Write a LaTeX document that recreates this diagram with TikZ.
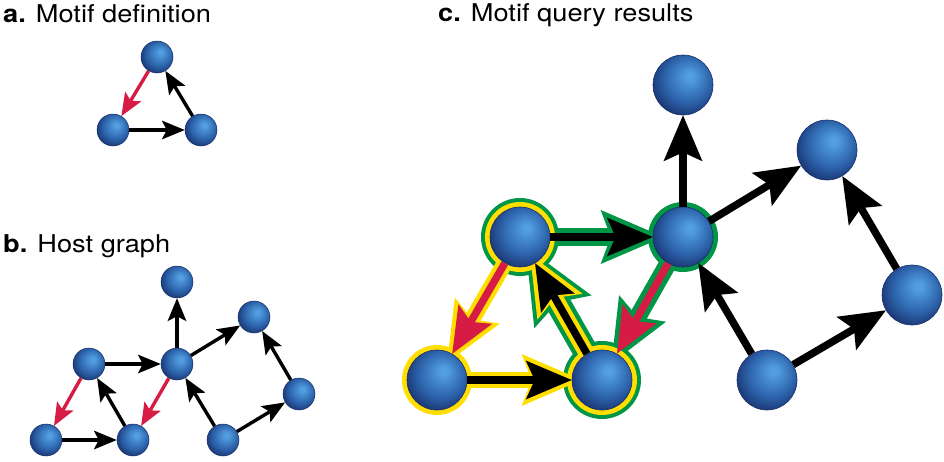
\documentclass[tikz,border=0pt]{standalone}
\usepackage{fontspec}
\setmainfont{TeX Gyre Heros}
\usepackage{graphicx}
\usetikzlibrary{arrows.meta}
\definecolor{ballhi}{RGB}{82,158,224}
\definecolor{ballmid}{RGB}{45,100,172}
\definecolor{balldk}{RGB}{24,48,108}
\definecolor{mygreen}{RGB}{0,150,70}
\definecolor{myyellow}{RGB}{255,222,0}
\definecolor{myred}{RGB}{214,28,68}
\pgfdeclareradialshading{myball}{\pgfpoint{6bp}{8bp}}{color(0bp)=(ballhi); color(3bp)=(ballhi); color(19bp)=(ballmid); color(31bp)=(balldk); color(50bp)=(balldk)}
\pgfdeclarelayer{gbg}
\pgfdeclarelayer{ybg}
\pgfsetlayers{gbg,ybg,main}
\tikzset{
  ballS/.style={circle, inner sep=0pt, minimum size=32pt, shading=myball, draw=balldk, line width=0.5pt},
  ballL/.style={circle, inner sep=0pt, minimum size=60pt, shading=myball, draw=balldk, line width=0.6pt},
  sarr/.style={line width=3.4pt, -{Stealth[length=23pt,width=19pt,inset=5pt,line width=0pt]}},
  larr/.style={line width=7.5pt, -{Stealth[length=46pt,width=39pt,inset=9pt,line width=0pt]}},
  olone/.style={line width=17.5pt, shorten >=-11pt, shorten <=-6pt, -{Stealth[length=63pt,width=54pt,inset=10pt,line width=0pt]}},
  olyel/.style={line width=16pt, shorten >=-10pt, shorten <=-6pt, -{Stealth[length=60pt,width=52pt,inset=10pt,line width=0pt]}},
  oltwo/.style={line width=25pt, shorten >=-19pt, shorten <=-8pt, -{Stealth[length=75pt,width=66pt,inset=11pt,line width=0pt]}},
  ttl/.style={anchor=base west, inner sep=0pt, font=\fontsize{24.5}{29}\selectfont}
}
\begin{document}
\begin{tikzpicture}[x=1pt,y=-1pt]
\useasboundingbox (0,0) rectangle (944,461);
% titles
\node[ttl] (ta) at (3,22) {\scalebox{1.11}[1]{\textbf{a.} Motif definition}};
\node[ttl] (tb) at (3,252) {\scalebox{1.11}[1]{\textbf{b.} Host graph}};
\node[ttl] (tc) at (438,21) {\scalebox{1.11}[1]{\textbf{c.} Motif query results}};
% panel a
\node[ballS] (a1) at (157,57) {};
\node[ballS] (a2) at (113,130) {};
\node[ballS] (a3) at (201,130) {};
\draw[sarr, myred] (a1) -- (a2);
\draw[sarr] (a2) -- (a3);
\draw[sarr] (a3) -- (a1);
% panel b
\node[ballS] (bT) at (177,282) {};
\node[ballS] (bRT) at (254,317) {};
\node[ballS] (bL) at (89,364) {};
\node[ballS] (bC) at (177,364) {};
\node[ballS] (bR) at (299,394) {};
\node[ballS] (bBL) at (46,440) {};
\node[ballS] (bBM) at (133,440) {};
\node[ballS] (bBR) at (223,440) {};
\draw[sarr] (bL) -- (bC);
\draw[sarr, myred] (bL) -- (bBL);
\draw[sarr] (bBL) -- (bBM);
\draw[sarr] (bBM) -- (bL);
\draw[sarr] (bC) -- (bT);
\draw[sarr] (bC) -- (bRT);
\draw[sarr, myred] (bC) -- (bBM);
\draw[sarr] (bBR) -- (bC);
\draw[sarr] (bBR) -- (bR);
\draw[sarr] (bR) -- (bRT);
% panel c
\node[ballL] (cTL) at (520,237) {};
\node[ballL] (cC) at (683,237) {};
\node[ballL] (cT) at (683,85) {};
\node[ballL] (cRT) at (827,150) {};
\node[ballL] (cR) at (912,295) {};
\node[ballL] (cBL) at (437,380) {};
\node[ballL] (cBM) at (602,380) {};
\node[ballL] (cBR) at (767,380) {};
\begin{pgfonlayer}{gbg}
  \fill[mygreen] (cTL) circle (39pt);
  \fill[mygreen] (cBM) circle (39pt);
  \fill[mygreen] (cC) circle (35pt);
  \draw[olone, mygreen] (cTL) -- (cC);
  \draw[olone, mygreen] (cC) -- (cBM);
  \draw[oltwo, mygreen] (cBM) -- (cTL);
\end{pgfonlayer}
\begin{pgfonlayer}{ybg}
  \fill[myyellow] (cTL) circle (35pt);
  \fill[myyellow] (cBM) circle (35pt);
  \fill[myyellow] (cBL) circle (35pt);
  \draw[olyel, myyellow] (cTL) -- (cBL);
  \draw[olyel, myyellow] (cBL) -- (cBM);
  \draw[olyel, myyellow] (cBM) -- (cTL);
\end{pgfonlayer}
\draw[larr] (cTL) -- (cC);
\draw[larr, myred] (cTL) -- (cBL);
\draw[larr] (cBL) -- (cBM);
\draw[larr] (cBM) -- (cTL);
\draw[larr, myred] (cC) -- (cBM);
\draw[larr] (cC) -- (cT);
\draw[larr] (cC) -- (cRT);
\draw[larr] (cBR) -- (cC);
\draw[larr] (cBR) -- (cR);
\draw[larr] (cR) -- (cRT);
\end{tikzpicture}
\end{document}
